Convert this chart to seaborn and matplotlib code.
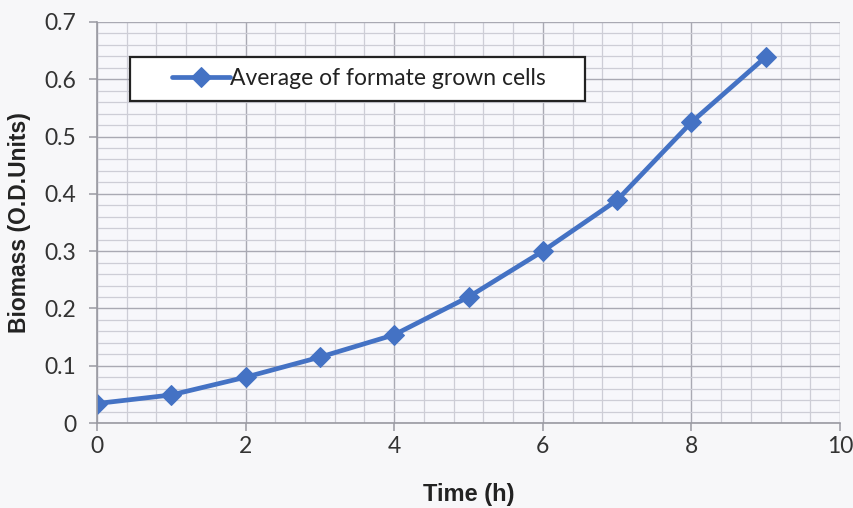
import matplotlib
matplotlib.use("Agg")
import matplotlib.pyplot as plt
from matplotlib.ticker import MultipleLocator
from matplotlib.patches import Rectangle
import seaborn as sns
import pandas as pd

# Growth of formate-grown cells over time
time_h = [0, 1, 2, 3, 4, 5, 6, 7, 8, 9]
biomass = [0.034, 0.049, 0.080, 0.115, 0.154, 0.220, 0.300, 0.389, 0.525, 0.639]
series_label = "Average of formate grown cells"
y_tick_labels = ["0", "0.1", "0.2", "0.3", "0.4", "0.5", "0.6", "0.7"]

df = pd.DataFrame({"Time (h)": time_h, "Biomass": biomass})

sns.set_theme(style="white")
plt.rcParams["font.family"] = ["Lato", "DejaVu Sans"]

line_color = "#4472C4"
label_font = ["Liberation Sans", "DejaVu Sans"]

fig = plt.figure(figsize=(8.54, 5.08), dpi=100, facecolor="#f7f7f9")
ax = fig.add_axes([0.1136, 0.1673, 0.8700, 0.7894])
ax.set_facecolor("#f7f7fb")

sns.lineplot(data=df, x="Time (h)", y="Biomass", ax=ax, color=line_color,
             linewidth=3.4, marker="D", markersize=10, markeredgecolor=line_color,
             label=series_label)

ax.set_xlim(0, 10)
ax.set_ylim(0, 0.7)
ax.xaxis.set_major_locator(MultipleLocator(2))
ax.xaxis.set_minor_locator(MultipleLocator(0.4))
ax.yaxis.set_minor_locator(MultipleLocator(0.02))
ax.set_yticks([i / 10 for i in range(len(y_tick_labels))])
ax.set_yticklabels(y_tick_labels)

ax.grid(which="major", color="#a9a9b3", linewidth=1.0)
ax.grid(which="minor", color="#cdcdd6", linewidth=0.9)
ax.set_axisbelow(True)

for side in ["top", "right"]:
    ax.spines[side].set_visible(False)
for side in ["left", "bottom"]:
    ax.spines[side].set_color("#9a9aa2")
    ax.spines[side].set_linewidth(1.2)

ax.tick_params(axis="both", which="major", labelsize=16.5, labelcolor="#333333",
               color="#9a9aa2", length=6, width=1.1, direction="out")
ax.tick_params(axis="x", which="major", pad=3)
ax.tick_params(axis="y", which="major", pad=9)
ax.tick_params(axis="both", which="minor", length=0)
ax.tick_params(left=True, bottom=True)

ax.set_xlabel("Time (h)", fontsize=17, fontweight="bold",
              family=label_font, color="#222222")
ax.set_ylabel("Biomass (O.D.Units)", fontsize=16.5, fontweight="bold",
              family=label_font, color="#222222")
ax.xaxis.set_label_coords(0.5, -0.150)
ax.yaxis.set_label_coords(-0.089, 0.5)

# Legend frame drawn as a box with extra side padding, legend entry placed inside it
ax.add_patch(Rectangle((0.0444, 0.803), 0.612, 0.110, transform=ax.transAxes,
                       facecolor="white", edgecolor="#222222", linewidth=1.6,
                       zorder=4.5, clip_on=False))
leg = ax.legend(loc="center left", bbox_to_anchor=(0.101, 0.858),
                frameon=False, fontsize=16.5, handlelength=2.55,
                handletextpad=0.0, borderpad=0, borderaxespad=0)
for t in leg.get_texts():
    t.set_color("#222222")

fig.savefig("out.png", dpi=100, facecolor=fig.get_facecolor())
